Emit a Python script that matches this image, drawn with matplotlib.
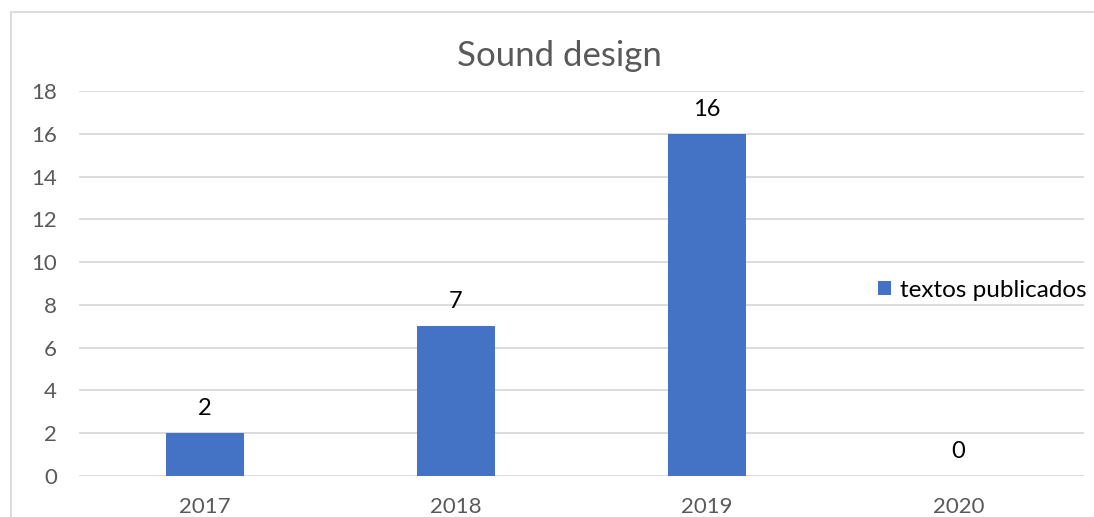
import matplotlib.pyplot as plt
from matplotlib.patches import Rectangle

# data
years = ['2017', '2018', '2019', '2020']
textos = [2, 7, 16, 0]
yticks = list(range(0, 20, 2))

plt.rcParams['font.family'] = ['Lato', 'DejaVu Sans']

fig = plt.figure(figsize=(10.94, 5.17), dpi=100)
ax = fig.add_axes([0.0722, 0.0793, 0.9188, 0.7447])

bars = ax.bar(years, textos, width=0.31, color='#4472C4', zorder=3,
              label='textos publicados')
for b, v in zip(bars, textos):
    ax.annotate(str(v), (b.get_x() + b.get_width() / 2, v),
                xytext=(0, 10), textcoords='offset points',
                ha='center', va='bottom', fontsize=17, color='#000000')

ax.set_xlim(-0.5, len(years) - 0.5)
ax.set_ylim(0, 18)
ax.set_yticks(yticks)
ax.yaxis.grid(True, color='#D9D9D9', linewidth=1.3, zorder=0)
ax.tick_params(axis='both', length=0, labelsize=16, colors='#595959')
ax.tick_params(axis='y', pad=16)
ax.tick_params(axis='x', pad=15)
for s in ax.spines.values():
    s.set_visible(False)

fig.text(559 / 1094, 1 - 56 / 517, 'Sound design', fontsize=25,
         color='#595959', ha='center', va='center')

leg = ax.legend(loc='center left', bbox_to_anchor=(0.795, 0.483), frameon=False,
                fontsize=17.5, handlelength=0.55, handleheight=0.55,
                handletextpad=0.35, borderpad=0, borderaxespad=0)

# outer chart border
fig.patches.append(Rectangle((11 / 1094, -0.01), 1.02, 1 - 12 / 517 + 0.01,
                             transform=fig.transFigure, fill=False,
                             edgecolor='#D9D9D9', linewidth=1.3))

fig.savefig('out.png', dpi=100)
